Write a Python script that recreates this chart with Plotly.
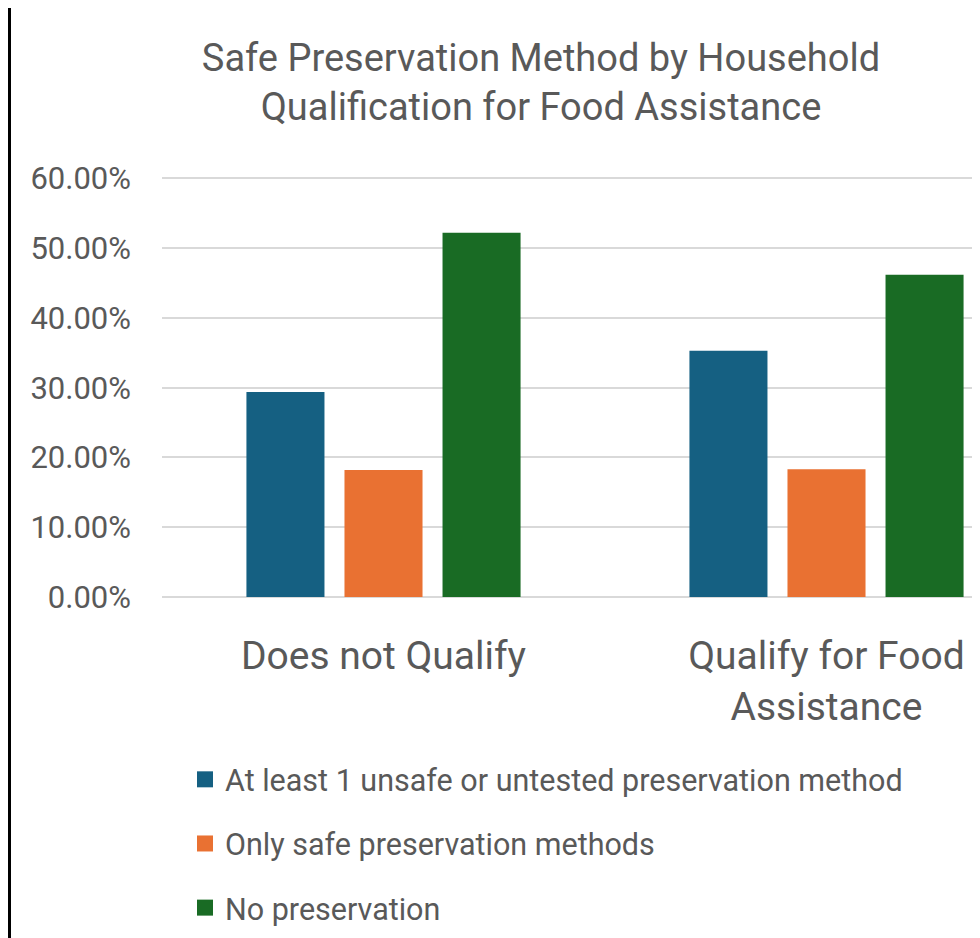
import plotly.graph_objects as go

categories = ["Does not Qualify", "Qualify for Food<br>Assistance"]
series_names = [
    "At least 1 unsafe or untested preservation method",
    "Only safe preservation methods",
    "No preservation",
]
unsafe_vals = [0.294, 0.353]
safe_vals = [0.182, 0.183]
none_vals = [0.522, 0.462]
colors = ["#156082", "#E97132", "#196B24"]
y_ticks = [0, 0.1, 0.2, 0.3, 0.4, 0.5, 0.6]

W, H = 980, 938
ML, MR, MT, MB = 154, 0, 169, 349
PW, PH = W - ML - MR, H - MT - MB
FONT = "Roboto"
GRAY = "#595959"

fig = go.Figure()
for name, vals, col in zip(series_names, [unsafe_vals, safe_vals, none_vals], colors):
    fig.add_trace(go.Bar(x=[0, 1], y=vals, name=name, marker=dict(color=col, line=dict(width=0)),
                         showlegend=False))
# legend entries
for i, (name, col) in enumerate(zip(series_names, colors)):
    fig.add_trace(go.Scatter(x=[None], y=[None], mode="markers", name=name, legendgroup=f"g{i}",
                             marker=dict(symbol="square", size=16, color=col, line=dict(width=0))))

fig.update_layout(
    width=W, height=H,
    margin=dict(l=ML, r=MR, t=MT, b=MB, autoexpand=False),
    paper_bgcolor="black", plot_bgcolor="rgba(0,0,0,0)",
    barmode="group", bargap=0.336, bargroupgap=0.204,
    font=dict(family=FONT, color=GRAY),
    title=dict(text="Safe Preservation Method by Household<br>Qualification for Food Assistance",
               x=533 / W, xref="container", xanchor="center",
               y=1 - 63 / H, yref="container", yanchor="middle",
               font=dict(size=38, color=GRAY, family=FONT)),
    xaxis=dict(range=[-0.5, -0.5 + PW / 443.0], tickvals=[0, 1], ticktext=categories,
               showgrid=False, zeroline=False, showline=False, ticks="",
               tickfont=dict(size=39, color=GRAY), ticklabelstandoff=32, fixedrange=True),
    yaxis=dict(range=[0, 0.602], tickvals=y_ticks, tickformat=".2%", showgrid=True,
               gridcolor="#d9d9d9", gridwidth=1.5, zeroline=True, zerolinecolor="#d9d9d9",
               zerolinewidth=1.5, showline=False, ticks="",
               tickfont=dict(size=31, color=GRAY), ticklabelstandoff=30),
    legend=dict(orientation="v", x=(177 - ML) / PW, xanchor="left",
                y=-156 / PH, yanchor="top", traceorder="grouped",
                tracegroupgap=21.5, font=dict(size=30.5, color=GRAY, family=FONT),
                bgcolor="rgba(0,0,0,0)"),
    shapes=[dict(type="rect", xref="paper", yref="paper", layer="below",
                 x0=-(ML - 3) / PW, x1=1.0, y0=-MB / PH, y1=1 + (MT + 10) / PH,
                 fillcolor="white", line=dict(width=0))],
)
fig.write_html("out.html")
